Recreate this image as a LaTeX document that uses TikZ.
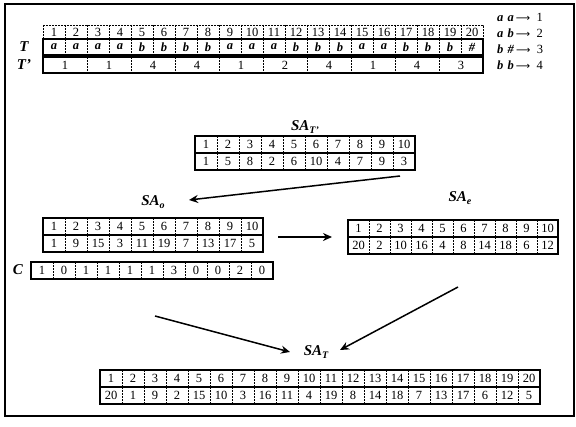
\documentclass[tikz,border=0pt]{standalone}
\usepackage{fontspec}
\setmainfont{Liberation Serif}
\newfontfamily\arrowfont{DejaVu Sans}
\usetikzlibrary{arrows.meta}

\tikzset{
  cellbox/.style={line width=1.1pt},
  divider/.style={line width=0.8pt, dash pattern=on 1.6pt off 1.4pt},
  celltext/.style={inner sep=0pt, font=\fontsize{12.5}{14}\selectfont},
  cellletter/.style={inner sep=0pt, font=\fontsize{12.5}{14}\selectfont\bfseries\itshape},
  tag/.style={inner sep=0pt, font=\fontsize{15}{17}\selectfont\bfseries\itshape},
  rule/.style={inner sep=0pt, anchor=west, font=\fontsize{12.5}{14}\selectfont},
  flow/.style={line width=1.5pt, -{Stealth[length=9pt,width=8pt]}},
}

% one row of cells: [box style] name, left x, top y, cell width, height, text style, entries
\newcommand{\tablerow}[8][cellbox]{%
  \foreach \v [count=\i] in {#8} {%
    \node[#7] (#2-\i) at ({#3+(\i-0.5)*#5},{#4+0.5*#6}) {\v};
    \ifnum\i>1 \draw[divider] ({#3+(\i-1)*#5},#4) -- ++(0,#6);\fi
    \xdef\rowcellcount{\i}%
  }%
  \draw[#1] (#3,#4) rectangle ++({\rowcellcount*#5},#6);
}
\newcommand{\SAlabel}[1]{SA\raisebox{-0.45ex}{\fontsize{10}{12}\selectfont #1}}
\newcommand{\maps}{\,{\arrowfont\fontsize{10}{12}\selectfont ⟶}\enspace}

\begin{document}
\begin{tikzpicture}[x=1pt,y=-1pt]
\useasboundingbox (0,0) rectangle (576,427);
\draw[line width=1.4pt] (5,4) rectangle (574,416);

% text T, its pairs T', and the pair code table
\tablerow[divider]{idx}{43}{25}{22}{14}{celltext}{1,...,20}
\tablerow{trow}{43}{39}{22}{16}{cellletter}{a,a,a,a,b,b,b,b,a,a,a,b,b,b,a,a,b,b,b,\#}
\tablerow{tpr}{43}{57}{44}{16}{celltext}{1,1,4,4,1,2,4,1,4,3}
\node[tag] (lt) at (24,47) {T};
\node[tag] (ltp) at (24,65) {T'};

\node[rule] (c1) at (497,17) {\textbf{\textit{a\,\,a}}\maps 1};
\node[rule] (c2) at (497,33) {\textbf{\textit{a\,\,b}}\maps 2};
\node[rule] (c3) at (497,49) {\textbf{\textit{b\,\,\#}}\maps 3};
\node[rule] (c4) at (497,65) {\textbf{\textit{b\,\,b}}\maps 4};

% suffix array of T'
\node[tag] (lsatp) at (305,127) {\SAlabel{T'}};
\tablerow{satpi}{195}{136}{22}{17}{celltext}{1,...,10}
\tablerow{satp}{195}{153}{22}{17}{celltext}{1,5,8,2,6,10,4,7,9,3}

% odd suffixes
\node[tag] (lsao) at (153,202) {\SAlabel{o}};
\tablerow{saoi}{43}{218}{22}{17}{celltext}{1,...,10}
\tablerow{sao}{43}{235}{22}{17}{celltext}{1,9,15,3,11,19,7,13,17,5}

% even suffixes
\node[tag] (lsae) at (460,198) {\SAlabel{e}};
\tablerow{saei}{348}{220}{21}{17}{celltext}{1,...,10}
\tablerow{sae}{348}{237}{21}{17}{celltext}{20,2,10,16,4,8,14,18,6,12}

% counts C
\node[tag] (lc) at (18,270) {C};
\tablerow{crow}{31}{262}{22}{17}{celltext}{1,0,1,1,1,1,3,0,0,2,0}

% merged suffix array
\node[tag] (lsat) at (316,352) {\SAlabel{T}};
\tablerow{sati}{100}{370}{22}{17}{celltext}{1,...,20}
\tablerow{sat}{100}{387}{22}{17}{celltext}{20,1,9,2,15,10,3,16,11,4,19,8,14,18,7,13,17,6,12,5}

% flow arrows
\coordinate (a1s) at (400,176);
\coordinate (a1e) at (189,200);
\draw[flow] (a1s) -- (a1e);
\coordinate (a2s) at (278,237);
\coordinate (a2e) at (332,237);
\draw[flow] (a2s) -- (a2e);
\coordinate (a3s) at (155,316);
\coordinate (a3e) at (290,352);
\draw[flow] (a3s) -- (a3e);
\coordinate (a4s) at (458,287);
\coordinate (a4e) at (340,350);
\draw[flow] (a4s) -- (a4e);
\end{tikzpicture}
\end{document}
